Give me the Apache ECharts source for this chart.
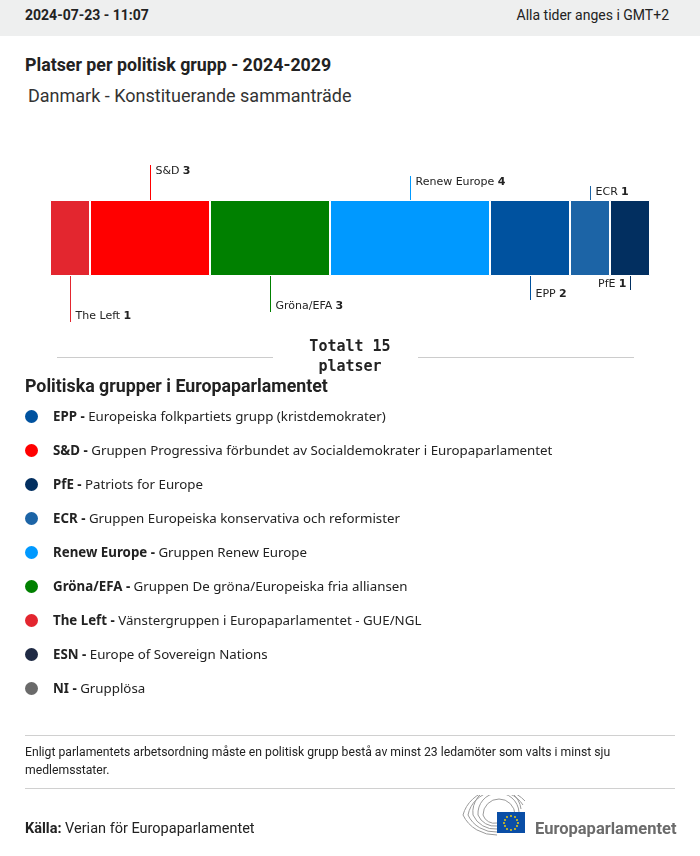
<!DOCTYPE html>
<html><head><meta charset="utf-8">
<script src="https://cdn.jsdelivr.net/npm/echarts@6/dist/echarts.min.js"></script>
<style>
html,body{margin:0;padding:0;background:#fff;}
#wrap{position:relative;width:700px;height:856px;overflow:hidden;font-family:Roboto,"Noto Sans",sans-serif;color:#222;}
#chart{position:absolute;left:0;top:0;width:700px;height:856px;}
.abs{position:absolute;white-space:nowrap;}
#hdr{position:absolute;left:0;top:0;width:700px;height:36px;background:#eeefef;}
.sep{position:absolute;height:1px;background:#d0d0d0;}
.item{position:absolute;left:25px;font-family:"Noto Sans",sans-serif;font-size:13.3px;color:#222;line-height:18px;}
.dot{display:inline-block;width:13px;height:13px;border-radius:50%;vertical-align:-2px;margin-right:15px;}
</style></head>
<body><div id="wrap">
<div id="hdr"></div>
<div class="abs" style="left:25px;top:7px;font-size:14px;font-weight:bold;">2024-07-23 - 11:07</div>
<div class="abs" style="right:31px;top:7px;font-size:14px;">Alla tider anges i GMT+2</div>
<div class="abs" style="left:25px;top:54px;font-size:17.8px;font-weight:bold;">Platser per politisk grupp - 2024-2029</div>
<div class="abs" style="left:28px;top:85px;font-size:18px;color:#333;">Danmark - Konstituerande sammanträde</div>
<div id="chart"></div>
<div class="abs" style="left:25px;top:375px;font-size:17.8px;font-weight:bold;">Politiska grupper i Europaparlamentet</div>
<div id="legend"></div>
<div class="sep" style="left:25px;top:735px;width:650px;"></div>
<div class="abs" style="left:25px;top:743px;font-size:12.2px;line-height:18px;color:#222;">Enligt parlamentets arbetsordning måste en politisk grupp bestå av minst 23 ledamöter som valts i minst sju<br>medlemsstater.</div>
<div class="sep" style="left:25px;top:788px;width:650px;"></div>
<div class="abs" style="left:25px;top:820px;font-size:14.5px;"><b>Källa:</b> Verian för Europaparlamentet</div>
<svg class="abs" style="left:455px;top:795px;" width="225" height="45" viewBox="0 0 225 45">
  <g fill="none" stroke="#9a9a9a" stroke-width="1">
    <path d="M42 40 A36 34 0 0 1 8 20 A36 34 0 0 1 70 6"/>
    <path d="M42 37 A30 29 0 0 1 13 20 A30 29 0 0 1 68 10"/>
    <path d="M42 34 A24 24 0 0 1 18 20 A24 24 0 0 1 66 14"/>
    <path d="M42 31 A18 18 0 0 1 23 20 A18 18 0 0 1 64 17"/>
    <path d="M42 28 A12 12 0 0 1 28 20 A12 12 0 0 1 60 20"/>
  </g>
  <rect x="42" y="17" width="28" height="21" fill="#0a4ea6"/>
  <g fill="#ffd800">
    <circle cx="56" cy="21" r="0.9"/><circle cx="60" cy="22" r="0.9"/><circle cx="62" cy="25" r="0.9"/><circle cx="63" cy="28" r="0.9"/>
    <circle cx="62" cy="31" r="0.9"/><circle cx="60" cy="34" r="0.9"/><circle cx="56" cy="35" r="0.9"/><circle cx="52" cy="34" r="0.9"/>
    <circle cx="50" cy="31" r="0.9"/><circle cx="49" cy="28" r="0.9"/><circle cx="50" cy="25" r="0.9"/><circle cx="52" cy="22" r="0.9"/>
  </g>
  <text x="80" y="39" font-family="Roboto" font-weight="bold" font-size="16.5" fill="#6b6b6b">Europaparlamentet</text>
</svg>
</div>
<script>
// ---- data ----
var groups = ['The Left', 'S&D', 'Gröna/EFA', 'Renew Europe', 'EPP', 'ECR', 'PfE'];
var seats  = [1, 3, 3, 4, 2, 1, 1];
var groupColors = ['#e3262f', '#ff0000', '#008000', '#0099ff', '#00529f', '#1c64a6', '#022f60'];
var totalSeats = 15;
var country = 'Danmark';
var legendAbbr = ['EPP', 'S&D', 'PfE', 'ECR', 'Renew Europe', 'Gröna/EFA', 'The Left', 'ESN', 'NI'];
var legendNames = ['Europeiska folkpartiets grupp (kristdemokrater)',
  'Gruppen Progressiva förbundet av Socialdemokrater i Europaparlamentet',
  'Patriots for Europe', 'Gruppen Europeiska konservativa och reformister',
  'Gruppen Renew Europe', 'Gruppen De gröna/Europeiska fria alliansen',
  'Vänstergruppen i Europaparlamentet - GUE/NGL', 'Europe of Sovereign Nations', 'Grupplösa'];
var legendColors = ['#00529f', '#ff0000', '#022f60', '#1c64a6', '#0099ff', '#008000', '#e3262f', '#1f2a44', '#6a6a6a'];

// ---- label styling (side: 1 above, -1 below; leader length px) ----
var labelSide = [-1, 1, -1, 1, -1, 1, -1];
var labelLen  = [46, 35, 36, 24, 24, 14, 14];
var labelAlignLeft = [true, true, true, true, true, true, false];

// legend html
var lg = document.getElementById('legend');
legendAbbr.forEach(function (a, i) {
  var d = document.createElement('div');
  d.className = 'item';
  d.style.top = (407 + i * 34) + 'px';
  d.innerHTML = '<span class="dot" style="background:' + legendColors[i] + '"></span><b>' + a.replace('&','&amp;') + ' -</b> ' + legendNames[i];
  lg.appendChild(d);
});

var chart = echarts.init(document.getElementById('chart'));
var series = groups.map(function (g, i) {
  return {
    type: 'bar', name: g, stack: 'seats', barWidth: '100%',
    data: [seats[i]], silent: true,
    itemStyle: { color: groupColors[i], borderColor: '#fff', borderWidth: 1 }
  };
});
var cum = 0;
var labelData = groups.map(function (g, i) {
  var c = cum + seats[i] / 2; cum += seats[i];
  return [c, i];
});
series.push({
  type: 'custom', silent: true, z: 10,
  data: labelData,
  renderItem: function (params, api) {
    var i = api.value(1);
    var p = api.coord([api.value(0), country]);
    var h = api.size([0, 1])[1];
    var side = labelSide[i], len = labelLen[i];
    var y0 = side > 0 ? p[1] - h / 2 : p[1] + h / 2;
    var y1 = y0 - side * len;
    var x = Math.round(p[0]) + 0.5;
    var ty = side > 0 ? y1 + 6 : y1 - 6;
    return {
      type: 'group', children: [
        { type: 'line', shape: { x1: x, y1: y0, x2: x, y2: y1 },
          style: { stroke: groupColors[i], lineWidth: 1 } },
        { type: 'text', x: labelAlignLeft[i] ? x + 5 : x - 4, y: ty,
          style: {
            text: '{n|' + groups[i] + '} {b|' + seats[i] + '}',
            align: labelAlignLeft[i] ? 'left' : 'right', verticalAlign: 'middle',
            rich: {
              n: { fontFamily: 'DejaVu Sans', fontSize: 11, fill: '#222' },
              b: { fontFamily: 'DejaVu Sans', fontSize: 11, fontWeight: 'bold', fill: '#222' }
            }
          } }
      ]
    };
  }
});
chart.setOption({
  animation: false,
  grid: { left: 50, top: 200, width: 600, height: 76 },
  xAxis: { type: 'value', min: 0, max: totalSeats, show: false },
  yAxis: { type: 'category', data: [country], show: false },
  series: series,
  graphic: [
    { type: 'line', shape: { x1: 57, y1: 357.5, x2: 273, y2: 357.5 }, style: { stroke: '#cccccc', lineWidth: 1 } },
    { type: 'line', shape: { x1: 418, y1: 357.5, x2: 634, y2: 357.5 }, style: { stroke: '#cccccc', lineWidth: 1 } },
    { type: 'text', x: 350, y: 357, style: { text: 'Totalt ' + totalSeats + '\nplatser', align: 'center', verticalAlign: 'middle',
      fontFamily: 'DejaVu Sans Mono', fontWeight: 'bold', fontSize: 15, lineHeight: 20, fill: '#222' } }
  ]
});
</script>
</body></html>
